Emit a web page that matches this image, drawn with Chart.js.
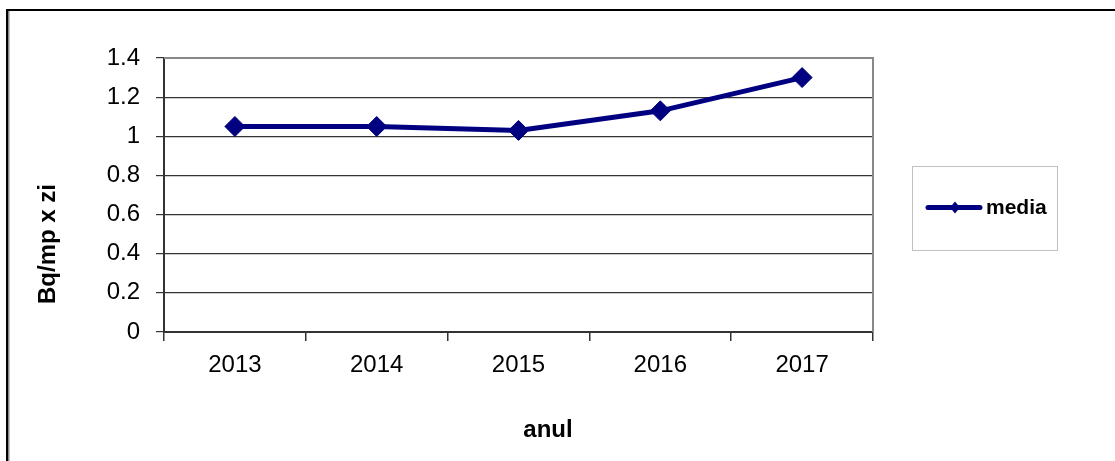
<!DOCTYPE html>
<html>
<head>
<meta charset="utf-8">
<script src="https://cdn.jsdelivr.net/npm/chart.js@4/dist/chart.umd.min.js"></script>
<style>
  html, body { margin: 0; padding: 0; background: #fff; }
  #wrap { width: 1115px; height: 461px; position: relative; }
</style>
</head>
<body>
<div id="wrap"><canvas id="c" width="1115" height="461"></canvas></div>
<script>
// ---- data ----
const categories = ['2013', '2014', '2015', '2016', '2017'];
const mediaValues = [1.05, 1.05, 1.03, 1.13, 1.30];
const seriesLabel = 'media';
const yTickValues = [0, 0.2, 0.4, 0.6, 0.8, 1, 1.2, 1.4];
const yTickLabels = ['0', '0.2', '0.4', '0.6', '0.8', '1', '1.2', '1.4'];
const xAxisTitle = 'anul';
const yAxisTitle = 'Bq/mp x zi';

const NAVY = '#000080';
const FONT = '"Liberation Sans", Arial, sans-serif';

const decor = {
  id: 'decor',
  beforeDraw(chart) {
    const ctx = chart.ctx;
    ctx.save();
    ctx.fillStyle = '#fff';
    ctx.fillRect(0, 0, chart.width, chart.height);
    // outer frame (top + left)
    ctx.fillStyle = '#000';
    ctx.fillRect(6, 9, chart.width - 6, 2);
    ctx.fillRect(6, 9, 2, chart.height - 9);
    ctx.fillStyle = '#888';
    ctx.fillRect(8, 11, 1.5, chart.height - 11);
    ctx.restore();
  },
  afterDatasetsDraw(chart) {},
  afterDraw(chart) {
    const ctx = chart.ctx;
    const a = chart.chartArea;
    ctx.save();
    // axis titles
    ctx.fillStyle = '#000';
    ctx.font = 'bold 24px ' + FONT;
    ctx.textAlign = 'center';
    ctx.textBaseline = 'middle';
    ctx.fillText(xAxisTitle, 548, 430);
    ctx.translate(48, 244);
    ctx.rotate(-Math.PI / 2);
    ctx.fillText(yAxisTitle, 0, 0);
    ctx.restore();

    // legend
    ctx.save();
    ctx.strokeStyle = '#c0c0c0';
    ctx.lineWidth = 1;
    ctx.strokeRect(912.5, 166.5, 145, 84);
    const ds = chart.data.datasets[0];
    ctx.strokeStyle = ds.borderColor;
    ctx.lineWidth = 5;
    ctx.lineCap = 'round';
    ctx.beginPath();
    ctx.moveTo(928, 207.5);
    ctx.lineTo(980, 207.5);
    ctx.stroke();
    ctx.fillStyle = ds.borderColor;
    ctx.beginPath();
    ctx.moveTo(955, 201.5); ctx.lineTo(960, 207.5); ctx.lineTo(955, 213.5); ctx.lineTo(950, 207.5);
    ctx.closePath(); ctx.fill();
    ctx.fillStyle = '#000';
    ctx.font = 'bold 21px ' + FONT;
    ctx.textAlign = 'left';
    ctx.textBaseline = 'middle';
    ctx.fillText(ds.label, 986, 208);
    ctx.restore();
  }
};

const plotFrame = {
  id: 'plotFrame',
  beforeDatasetsDraw(chart) {
    const ctx = chart.ctx;
    const a = chart.chartArea;
    ctx.save();
    ctx.strokeStyle = '#888';
    ctx.lineWidth = 2;
    ctx.beginPath();
    ctx.moveTo(a.left, a.top);
    ctx.lineTo(a.right, a.top);
    ctx.lineTo(a.right, a.bottom);
    ctx.stroke();
    ctx.restore();
  }
};

new Chart(document.getElementById('c'), {
  type: 'line',
  data: {
    labels: categories,
    datasets: [{
      label: seriesLabel,
      data: mediaValues,
      borderColor: NAVY,
      backgroundColor: NAVY,
      borderWidth: 5,
      pointStyle: 'rectRot',
      pointRadius: 10,
      pointHoverRadius: 10,
      pointBorderWidth: 1,
      pointBackgroundColor: NAVY,
      pointBorderColor: NAVY,
      tension: 0,
      fill: false
    }]
  },
  options: {
    responsive: false,
    animation: false,
    devicePixelRatio: 1,
    layout: { padding: { left: 0, right: 242, top: 58, bottom: 0 } },
    plugins: { legend: { display: false }, tooltip: { enabled: false } },
    scales: {
      x: {
        type: 'category',
        offset: true,
        grid: { display: true, drawOnChartArea: false, drawTicks: true, tickLength: 9, color: '#333', lineWidth: 1.5, offset: true },
        border: { display: true, color: '#333', width: 2 },
        ticks: { color: '#000', font: { family: FONT, size: 24 }, padding: 10, maxRotation: 0 },
        afterFit(s) { s.height = 129; }
      },
      y: {
        min: 0,
        max: 1.4,
        afterBuildTicks(s) { s.ticks = yTickValues.map(v => ({ value: v })); },
        grid: { color: '#333', lineWidth: 1.2, drawTicks: true, tickLength: 8 },
        border: { display: true, color: '#333', width: 2 },
        ticks: {
          color: '#000',
          font: { family: FONT, size: 24 },
          padding: 16,
          callback(v) { const i = yTickValues.findIndex(t => Math.abs(t - v) < 1e-9); return i >= 0 ? yTickLabels[i] : ''; }
        },
        afterFit(s) { s.width = 164; }
      }
    }
  },
  plugins: [decor, plotFrame]
});
</script>
</body>
</html>
